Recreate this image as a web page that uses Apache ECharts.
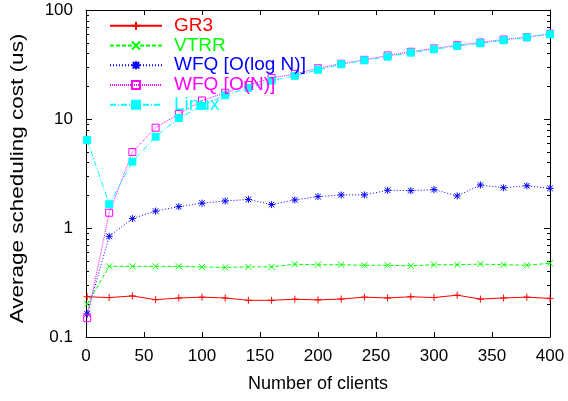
<!DOCTYPE html>
<html>
<head>
<meta charset="utf-8">
<script src="https://cdn.jsdelivr.net/npm/echarts@6/dist/echarts.min.js"></script>
<style>
html,body{margin:0;padding:0;background:#fff;}
#chart{width:568px;height:401px;}
</style>
</head>
<body>
<div id="chart"></div>
<script>
// number of clients on x
var clients = [1, 20, 40, 60, 80, 100, 120, 140, 160, 180, 200, 220, 240, 260, 280, 300, 320, 340, 360, 380, 400];
// scheduling cost (us)
var gr3 = [0.234, 0.230, 0.238, 0.220, 0.228, 0.232, 0.228, 0.217, 0.217, 0.222, 0.219, 0.223, 0.232, 0.228, 0.234, 0.230, 0.242, 0.223, 0.228, 0.232, 0.226];
var vtrr = [0.200, 0.445, 0.445, 0.445, 0.445, 0.439, 0.435, 0.440, 0.440, 0.465, 0.460, 0.460, 0.455, 0.455, 0.450, 0.460, 0.460, 0.467, 0.460, 0.455, 0.475];
var wfqLog = [0.163, 0.84, 1.22, 1.43, 1.57, 1.69, 1.77, 1.83, 1.64, 1.81, 1.94, 2.01, 2.01, 2.22, 2.20, 2.25, 1.97, 2.48, 2.34, 2.44, 2.31];
var wfqN = [0.149, 1.38, 4.98, 8.32, 11.1, 14.8, 17.4, 20.5, 23.8, 25.9, 29.2, 32.1, 34.9, 38.3, 41.4, 44.4, 47.5, 50.3, 53.6, 56.3, 60.5];
var linux = [6.41, 1.65, 4.06, 6.88, 10.2, 13.2, 16.5, 19.3, 22.5, 24.9, 28.3, 31.8, 34.5, 37.3, 40.6, 43.6, 46.7, 49.5, 52.7, 56.1, 59.8];
var xTicks = [0, 50, 100, 150, 200, 250, 300, 350, 400];
var yTicks = [0.1, 1, 10, 100];

var font = '"Liberation Sans", Arial, sans-serif';
var plus = 'path://M0,5L10,5M5,0L5,10';
var cross = 'path://M0,0L10,10M10,0L0,10';
var star = 'path://M0,5L10,5M5,0L5,10M1,1L9,9M9,1L1,9';
var box = 'path://M0,0L10,0L10,10L0,10Z';

function pairs(ys) {
    var out = [];
    for (var i = 0; i < clients.length; i++) {
        out.push([clients[i], ys[i]]);
    }
    return out;
}

function lineSeries(name, color, ys, symbol, size, dash, fill) {
    return {
        name: name,
        type: 'line',
        data: pairs(ys),
        symbol: symbol,
        symbolSize: size,
        showAllSymbol: true,
        lineStyle: { color: color, width: 1, type: dash },
        itemStyle: { color: fill, borderColor: color, borderWidth: 1 },
        emphasis: { disabled: true }
    };
}

var chart = echarts.init(document.getElementById('chart'));

var axisLine = { show: true, onZero: false, lineStyle: { color: '#000', width: 1 } };

var option = {
    animation: false,
    backgroundColor: '#fff',
    grid: { left: 86, right: 18, top: 10, bottom: 64 },
    legend: {
        orient: 'vertical',
        left: 104,
        top: 11,
        itemWidth: 52,
        itemHeight: 10,
        itemGap: 0,
        textStyle: { fontSize: 19, lineHeight: 19.7, fontFamily: font, padding: [0, 0, 0, 7] },
        data: [
            { name: 'GR3', textStyle: { color: '#ff0000' } },
            { name: 'VTRR', textStyle: { color: '#00ff00' } },
            { name: 'WFQ [O(log N)]', textStyle: { color: '#0000ff' } },
            { name: 'WFQ [O(N)]', textStyle: { color: '#ff00ff' } },
            { name: 'Linux', textStyle: { color: '#00ffff' } }
        ]
    },
    xAxis: [{
        type: 'value',
        min: 0,
        max: 400,
        interval: 50,
        name: 'Number of clients',
        nameLocation: 'middle',
        nameGap: 38,
        nameTextStyle: { fontSize: 18, fontFamily: font, color: '#000' },
        axisLine: axisLine,
        axisTick: { inside: true, length: 5, lineStyle: { color: '#000' } },
        axisLabel: { fontSize: 17, fontFamily: font, color: '#000', margin: 11 },
        splitLine: { show: false }
    }, {
        type: 'value',
        position: 'top',
        min: 0,
        max: 400,
        interval: 50,
        axisLine: axisLine,
        axisTick: { inside: true, length: 5, lineStyle: { color: '#000' } },
        axisLabel: { show: false },
        splitLine: { show: false }
    }],
    yAxis: [{
        type: 'log',
        min: 0.1,
        max: 100,
        logBase: 10,
        axisLine: axisLine,
        axisTick: { inside: true, length: 6, lineStyle: { color: '#000' } },
        axisLabel: { fontSize: 17, fontFamily: font, color: '#000', margin: 13 },
        splitLine: { show: false }
    }, {
        type: 'log',
        min: 0.1,
        max: 100,
        logBase: 10,
        position: 'right',
        axisLine: axisLine,
        axisTick: { inside: true, length: 6, lineStyle: { color: '#000' } },
        axisLabel: { show: false },
        splitLine: { show: false }
    }],
    series: [
        lineSeries('GR3', '#ff0000', gr3, plus, 7, 'solid', '#ff0000'),
        lineSeries('VTRR', '#00ff00', vtrr, cross, 6, [4, 2], '#00ff00'),
        lineSeries('WFQ [O(log N)]', '#0000ff', wfqLog, star, 7, [1, 2], '#0000ff'),
        lineSeries('WFQ [O(N)]', '#ff00ff', wfqN, box, 7, [1, 1], 'rgba(0,0,0,0)'),
        lineSeries('Linux', '#00ffff', linux, 'rect', 7, [6, 2, 1, 2], '#00ffff')
    ]
};
chart.setOption(option);

// minor ticks of the log axes (2..9 in each decade) and the stretched y title
var x0 = chart.convertToPixel({ xAxisIndex: 0 }, 0);
var x1 = chart.convertToPixel({ xAxisIndex: 0 }, 400);
var yTop = chart.convertToPixel({ yAxisIndex: 0 }, 100);
var yBot = chart.convertToPixel({ yAxisIndex: 0 }, 0.1);
var graphics = [];
for (var d = 0; d < yTicks.length - 1; d++) {
    for (var k = 2; k <= 9; k++) {
        var py = Math.round(chart.convertToPixel({ yAxisIndex: 0 }, yTicks[d] * k)) + 0.5;
        graphics.push({ type: 'line', shape: { x1: x0, y1: py, x2: x0 + 3, y2: py }, style: { stroke: '#000', lineWidth: 1 }, silent: true });
        graphics.push({ type: 'line', shape: { x1: x1 - 3, y1: py, x2: x1, y2: py }, style: { stroke: '#000', lineWidth: 1 }, silent: true });
    }
}
graphics.push({
    type: 'text',
    x: 18,
    y: (yTop + yBot) / 2 + 5,
    rotation: Math.PI / 2,
    scaleX: 1.25,
    style: {
        text: 'Average scheduling cost (us)',
        font: '18px ' + font,
        fill: '#000',
        align: 'center',
        verticalAlign: 'middle'
    },
    silent: true
});
chart.setOption({ graphic: graphics });
</script>
</body>
</html>
